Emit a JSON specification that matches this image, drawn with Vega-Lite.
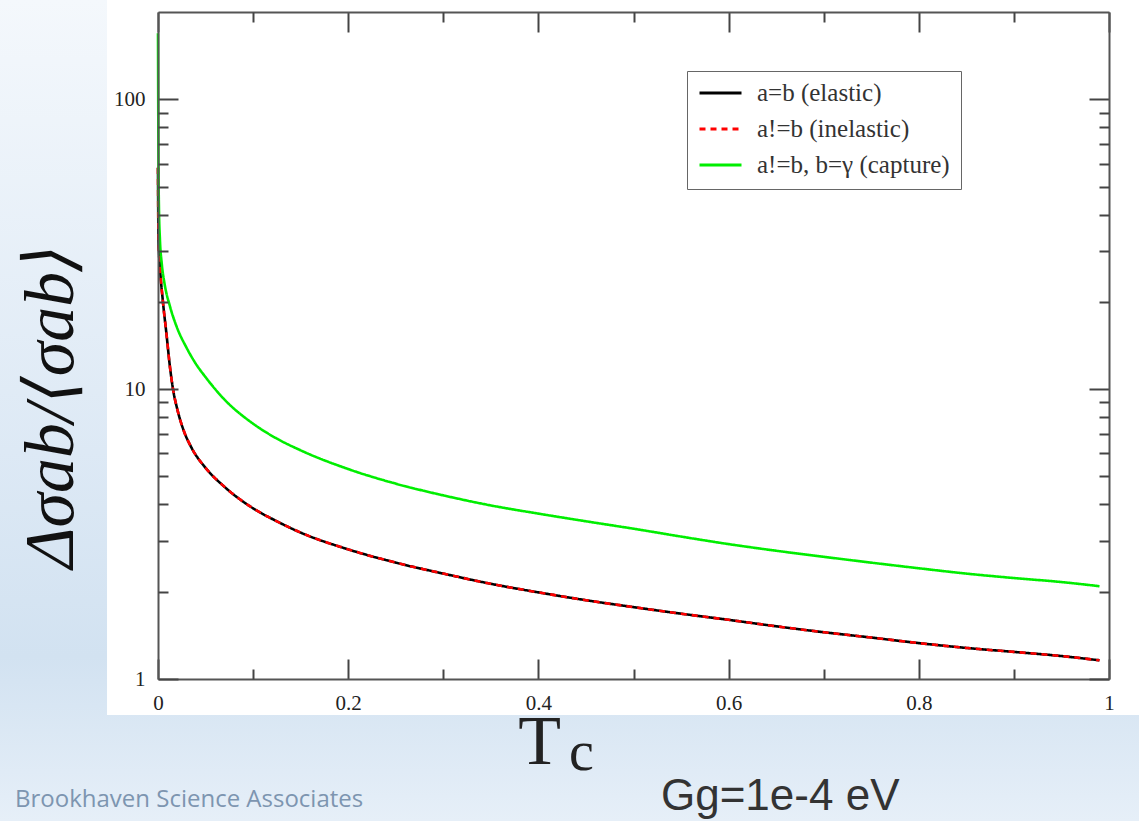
{
  "$schema": "https://vega.github.io/schema/vega-lite/v6.json",
  "width": 951,
  "height": 667,
  "autosize": {"type": "none"},
  "padding": {"left": 158, "top": 12, "right": 30, "bottom": 142},
  "background": "#e2ecf6",
  "config": {
    "view": {"stroke": null},
    "axis": {
      "grid": false,
      "tickColor": "#444444",
      "tickWidth": 2,
      "domainColor": "#555555",
      "domainWidth": 2,
      "labelFont": "Liberation Serif",
      "labelFontSize": 21,
      "labelColor": "#222222",
      "labelOverlap": false,
      "labelBound": false,
      "labelFlush": false
    }
  },
  "datasets": {
    "curves": [
      {"T": 0, "v": 58, "series": "a=b (elastic)"},
      {"T": 0.0005, "v": 33, "series": "a=b (elastic)"},
      {"T": 0.002, "v": 26.5, "series": "a=b (elastic)"},
      {"T": 0.005, "v": 20.3, "series": "a=b (elastic)"},
      {"T": 0.009, "v": 15.4, "series": "a=b (elastic)"},
      {"T": 0.0126, "v": 11.9, "series": "a=b (elastic)"},
      {"T": 0.016, "v": 9.9, "series": "a=b (elastic)"},
      {"T": 0.02, "v": 8.6, "series": "a=b (elastic)"},
      {"T": 0.027, "v": 7.2, "series": "a=b (elastic)"},
      {"T": 0.035, "v": 6.3, "series": "a=b (elastic)"},
      {"T": 0.05, "v": 5.35, "series": "a=b (elastic)"},
      {"T": 0.07, "v": 4.6, "series": "a=b (elastic)"},
      {"T": 0.1, "v": 3.88, "series": "a=b (elastic)"},
      {"T": 0.125, "v": 3.5, "series": "a=b (elastic)"},
      {"T": 0.15, "v": 3.2, "series": "a=b (elastic)"},
      {"T": 0.2, "v": 2.8, "series": "a=b (elastic)"},
      {"T": 0.25, "v": 2.52, "series": "a=b (elastic)"},
      {"T": 0.3, "v": 2.31, "series": "a=b (elastic)"},
      {"T": 0.35, "v": 2.13, "series": "a=b (elastic)"},
      {"T": 0.4, "v": 1.99, "series": "a=b (elastic)"},
      {"T": 0.45, "v": 1.87, "series": "a=b (elastic)"},
      {"T": 0.5, "v": 1.77, "series": "a=b (elastic)"},
      {"T": 0.55, "v": 1.68, "series": "a=b (elastic)"},
      {"T": 0.6, "v": 1.6, "series": "a=b (elastic)"},
      {"T": 0.65, "v": 1.52, "series": "a=b (elastic)"},
      {"T": 0.7, "v": 1.45, "series": "a=b (elastic)"},
      {"T": 0.75, "v": 1.39, "series": "a=b (elastic)"},
      {"T": 0.8, "v": 1.33, "series": "a=b (elastic)"},
      {"T": 0.85, "v": 1.28, "series": "a=b (elastic)"},
      {"T": 0.9, "v": 1.24, "series": "a=b (elastic)"},
      {"T": 0.95, "v": 1.2, "series": "a=b (elastic)"},
      {"T": 0.99, "v": 1.16, "series": "a=b (elastic)"},
      {"T": 0, "v": 58, "series": "a!=b (inelastic)"},
      {"T": 0.0005, "v": 33, "series": "a!=b (inelastic)"},
      {"T": 0.002, "v": 26.5, "series": "a!=b (inelastic)"},
      {"T": 0.005, "v": 20.3, "series": "a!=b (inelastic)"},
      {"T": 0.009, "v": 15.4, "series": "a!=b (inelastic)"},
      {"T": 0.0126, "v": 11.9, "series": "a!=b (inelastic)"},
      {"T": 0.016, "v": 9.9, "series": "a!=b (inelastic)"},
      {"T": 0.02, "v": 8.6, "series": "a!=b (inelastic)"},
      {"T": 0.027, "v": 7.2, "series": "a!=b (inelastic)"},
      {"T": 0.035, "v": 6.3, "series": "a!=b (inelastic)"},
      {"T": 0.05, "v": 5.35, "series": "a!=b (inelastic)"},
      {"T": 0.07, "v": 4.6, "series": "a!=b (inelastic)"},
      {"T": 0.1, "v": 3.88, "series": "a!=b (inelastic)"},
      {"T": 0.125, "v": 3.5, "series": "a!=b (inelastic)"},
      {"T": 0.15, "v": 3.2, "series": "a!=b (inelastic)"},
      {"T": 0.2, "v": 2.8, "series": "a!=b (inelastic)"},
      {"T": 0.25, "v": 2.52, "series": "a!=b (inelastic)"},
      {"T": 0.3, "v": 2.31, "series": "a!=b (inelastic)"},
      {"T": 0.35, "v": 2.13, "series": "a!=b (inelastic)"},
      {"T": 0.4, "v": 1.99, "series": "a!=b (inelastic)"},
      {"T": 0.45, "v": 1.87, "series": "a!=b (inelastic)"},
      {"T": 0.5, "v": 1.77, "series": "a!=b (inelastic)"},
      {"T": 0.55, "v": 1.68, "series": "a!=b (inelastic)"},
      {"T": 0.6, "v": 1.6, "series": "a!=b (inelastic)"},
      {"T": 0.65, "v": 1.52, "series": "a!=b (inelastic)"},
      {"T": 0.7, "v": 1.45, "series": "a!=b (inelastic)"},
      {"T": 0.75, "v": 1.39, "series": "a!=b (inelastic)"},
      {"T": 0.8, "v": 1.33, "series": "a!=b (inelastic)"},
      {"T": 0.85, "v": 1.28, "series": "a!=b (inelastic)"},
      {"T": 0.9, "v": 1.24, "series": "a!=b (inelastic)"},
      {"T": 0.95, "v": 1.2, "series": "a!=b (inelastic)"},
      {"T": 0.99, "v": 1.16, "series": "a!=b (inelastic)"},
      {"T": 0, "v": 169, "series": "a!=b, b=γ (capture)"},
      {"T": 0.0005, "v": 60, "series": "a!=b, b=γ (capture)"},
      {"T": 0.001, "v": 42, "series": "a!=b, b=γ (capture)"},
      {"T": 0.002, "v": 33, "series": "a!=b, b=γ (capture)"},
      {"T": 0.004, "v": 27, "series": "a!=b, b=γ (capture)"},
      {"T": 0.007, "v": 23, "series": "a!=b, b=γ (capture)"},
      {"T": 0.0126, "v": 19.3, "series": "a!=b, b=γ (capture)"},
      {"T": 0.02, "v": 16.3, "series": "a!=b, b=γ (capture)"},
      {"T": 0.03, "v": 13.9, "series": "a!=b, b=γ (capture)"},
      {"T": 0.04, "v": 12.2, "series": "a!=b, b=γ (capture)"},
      {"T": 0.05, "v": 11.0, "series": "a!=b, b=γ (capture)"},
      {"T": 0.07, "v": 9.2, "series": "a!=b, b=γ (capture)"},
      {"T": 0.1, "v": 7.6, "series": "a!=b, b=γ (capture)"},
      {"T": 0.125, "v": 6.75, "series": "a!=b, b=γ (capture)"},
      {"T": 0.15, "v": 6.15, "series": "a!=b, b=γ (capture)"},
      {"T": 0.2, "v": 5.3, "series": "a!=b, b=γ (capture)"},
      {"T": 0.25, "v": 4.72, "series": "a!=b, b=γ (capture)"},
      {"T": 0.3, "v": 4.3, "series": "a!=b, b=γ (capture)"},
      {"T": 0.35, "v": 3.97, "series": "a!=b, b=γ (capture)"},
      {"T": 0.4, "v": 3.72, "series": "a!=b, b=γ (capture)"},
      {"T": 0.45, "v": 3.5, "series": "a!=b, b=γ (capture)"},
      {"T": 0.5, "v": 3.3, "series": "a!=b, b=γ (capture)"},
      {"T": 0.55, "v": 3.1, "series": "a!=b, b=γ (capture)"},
      {"T": 0.6, "v": 2.92, "series": "a!=b, b=γ (capture)"},
      {"T": 0.65, "v": 2.77, "series": "a!=b, b=γ (capture)"},
      {"T": 0.7, "v": 2.64, "series": "a!=b, b=γ (capture)"},
      {"T": 0.75, "v": 2.52, "series": "a!=b, b=γ (capture)"},
      {"T": 0.8, "v": 2.41, "series": "a!=b, b=γ (capture)"},
      {"T": 0.85, "v": 2.31, "series": "a!=b, b=γ (capture)"},
      {"T": 0.9, "v": 2.23, "series": "a!=b, b=γ (capture)"},
      {"T": 0.95, "v": 2.16, "series": "a!=b, b=γ (capture)"},
      {"T": 0.99, "v": 2.09, "series": "a!=b, b=γ (capture)"}
    ]
  },
  "layer": [
    {
      "data": {"values": [{}]},
      "mark": {
        "type": "rect",
        "fill": {
          "gradient": "linear", "x1": 0, "y1": 0, "x2": 0, "y2": 1,
          "stops": [
            {"offset": 0, "color": "#f4f8fc"},
            {"offset": 0.55, "color": "#dde9f5"},
            {"offset": 0.8, "color": "#d2e2f1"},
            {"offset": 1, "color": "#e6eff8"}
          ]
        }
      },
      "encoding": {
        "x": {"datum": -0.16614, "type": "quantitative", "scale": {"domain": [0, 1], "nice": false, "zero": false}, "axis": null},
        "x2": {"datum": 1.03155},
        "y": {"datum": 220, "type": "quantitative", "scale": {"type": "log", "domain": [1, 200], "nice": false}, "axis": null},
        "y2": {"datum": 0.3236}
      }
    },
    {
      "data": {"values": [{}]},
      "mark": {"type": "rect", "fill": "#ffffff"},
      "encoding": {
        "x": {"datum": -0.0536, "type": "quantitative", "scale": {"domain": [0, 1], "nice": false, "zero": false}, "axis": null},
        "x2": {"datum": 1.03155},
        "y": {"datum": 220, "type": "quantitative", "scale": {"type": "log", "domain": [1, 200], "nice": false}, "axis": null},
        "y2": {"datum": 0.7514}
      }
    },
    {
      "data": {"name": "curves"},
      "mark": {"type": "line", "strokeWidth": 2.6, "interpolate": "monotone"},
      "encoding": {
        "x": {
          "field": "T", "type": "quantitative",
          "scale": {"domain": [0, 1], "nice": false, "zero": false},
          "axis": {
            "orient": "bottom",
            "zindex": 1,
            "values": [0, 0.2, 0.4, 0.6, 0.8, 1],
            "labelExpr": "datum.value + ''",
            "tickSize": -20,
            "labelPadding": 33,
            "title": "T",
            "titleFont": "Liberation Serif",
            "titleFontSize": 70,
            "titleFontWeight": "normal",
            "titleColor": "#222222",
            "titleX": 381,
            "titleY": 84,
            "titleAlign": "center",
            "titleBaseline": "alphabetic"
          }
        },
        "y": {
          "field": "v", "type": "quantitative",
          "scale": {"type": "log", "domain": [1, 200], "nice": false},
          "axis": {
            "orient": "left",
            "zindex": 1,
            "values": [1, 10, 100],
            "labelExpr": "datum.value + ''",
            "tickSize": -20,
            "labelPadding": 33,
            "title": "Δσab/⟨σab⟩",
            "titleFont": "Liberation Serif, DejaVu Serif",
            "titleFontStyle": "italic",
            "titleFontSize": 70,
            "titleFontWeight": "normal",
            "titleColor": "#111111",
            "titleAngle": 270,
            "titleX": -86,
            "titleY": 394,
            "titleAlign": "center",
            "titleBaseline": "alphabetic"
          }
        },
        "color": {
          "field": "series", "type": "nominal",
          "scale": {"domain": ["a=b (elastic)", "a!=b (inelastic)", "a!=b, b=γ (capture)"], "range": ["#000000", "#ff0000", "#00ee00"]},
          "legend": {
            "title": null,
            "orient": "none",
            "legendX": 529,
            "legendY": 59,
            "zindex": 2,
            "fillColor": "#ffffff",
            "strokeColor": "#666666",
            "padding": 11,
            "symbolType": "stroke",
            "symbolSize": 1764,
            "symbolStrokeWidth": 3,
            "clipHeight": 22,
            "rowPadding": 11,
            "labelOffset": 14,
            "labelFont": "Liberation Serif",
            "labelFontSize": 25,
            "labelColor": "#333333",
            "labelLimit": 400
          }
        },
        "strokeDash": {
          "field": "series", "type": "nominal",
          "scale": {"domain": ["a=b (elastic)", "a!=b (inelastic)", "a!=b, b=γ (capture)"], "range": [[1, 0], [6, 5], [1, 0]]},
          "legend": {
            "title": null,
            "orient": "none",
            "legendX": 529,
            "legendY": 59,
            "zindex": 2,
            "fillColor": "#ffffff",
            "strokeColor": "#666666",
            "padding": 11,
            "symbolType": "stroke",
            "symbolSize": 1764,
            "symbolStrokeWidth": 3,
            "clipHeight": 22,
            "rowPadding": 11,
            "labelOffset": 14,
            "labelFont": "Liberation Serif",
            "labelFontSize": 25,
            "labelColor": "#333333",
            "labelLimit": 400
          }
        }
      }
    },
    {
      "data": {"name": "curves"},
      "mark": {"type": "point", "opacity": 0},
      "encoding": {
        "x": {
          "field": "T", "type": "quantitative",
          "scale": {"domain": [0, 1], "nice": false, "zero": false},
          "axis": {"orient": "top", "zindex": 1, "values": [0, 0.2, 0.4, 0.6, 0.8, 1], "labels": false, "tickSize": -20, "title": null}
        },
        "y": {
          "field": "v", "type": "quantitative",
          "scale": {"type": "log", "domain": [1, 200], "nice": false},
          "axis": {"orient": "right", "zindex": 1, "values": [1, 10, 100], "labels": false, "tickSize": -20, "title": null}
        }
      }
    },
    {
      "data": {"name": "curves"},
      "mark": {"type": "point", "opacity": 0},
      "encoding": {
        "x": {
          "field": "T", "type": "quantitative",
          "scale": {"domain": [0, 1], "nice": false, "zero": false},
          "axis": {"orient": "bottom", "zindex": 1, "values": [0.1, 0.3, 0.5, 0.7, 0.9], "labels": false, "domain": false, "tickSize": -10, "title": null}
        },
        "y": {
          "field": "v", "type": "quantitative",
          "scale": {"type": "log", "domain": [1, 200], "nice": false},
          "axis": {"orient": "left", "zindex": 1, "values": [2, 3, 4, 5, 6, 7, 8, 9, 20, 30, 40, 50, 60, 70, 80, 90], "labels": false, "domain": false, "tickSize": -10, "title": null}
        }
      }
    },
    {
      "data": {"name": "curves"},
      "mark": {"type": "point", "opacity": 0},
      "encoding": {
        "x": {
          "field": "T", "type": "quantitative",
          "scale": {"domain": [0, 1], "nice": false, "zero": false},
          "axis": {"orient": "top", "zindex": 1, "values": [0.1, 0.3, 0.5, 0.7, 0.9], "labels": false, "domain": false, "tickSize": -10, "title": null}
        },
        "y": {
          "field": "v", "type": "quantitative",
          "scale": {"type": "log", "domain": [1, 200], "nice": false},
          "axis": {"orient": "right", "zindex": 1, "values": [2, 3, 4, 5, 6, 7, 8, 9, 20, 30, 40, 50, 60, 70, 80, 90], "labels": false, "domain": false, "tickSize": -10, "title": null}
        }
      }
    },
    {
      "data": {"values": [{}]},
      "mark": {"type": "text", "text": "c", "font": "Liberation Serif", "fontSize": 56, "color": "#222222", "align": "left", "baseline": "alphabetic"},
      "encoding": {
        "x": {"datum": 0.4322, "type": "quantitative", "scale": {"domain": [0, 1], "nice": false, "zero": false}, "axis": null},
        "y": {"datum": 0.4854, "type": "quantitative", "scale": {"type": "log", "domain": [1, 200], "nice": false}, "axis": null}
      }
    },
    {
      "data": {"values": [{}]},
      "mark": {"type": "text", "text": "Gg=1e-4 eV", "font": "Liberation Sans", "fontSize": 44, "color": "#333333", "align": "left", "baseline": "alphabetic"},
      "encoding": {
        "x": {"datum": 0.5289, "type": "quantitative", "scale": {"domain": [0, 1], "nice": false, "zero": false}, "axis": null},
        "y": {"datum": 0.3533, "type": "quantitative", "scale": {"type": "log", "domain": [1, 200], "nice": false}, "axis": null}
      }
    },
    {
      "data": {"values": [{}]},
      "mark": {"type": "text", "text": "Brookhaven Science Associates", "font": "Open Sans", "fontSize": 24, "color": "#7d95b0", "align": "left", "baseline": "alphabetic"},
      "encoding": {
        "x": {"datum": -0.1504, "type": "quantitative", "scale": {"domain": [0, 1], "nice": false, "zero": false}, "axis": null},
        "y": {"datum": 0.3618, "type": "quantitative", "scale": {"type": "log", "domain": [1, 200], "nice": false}, "axis": null}
      }
    }
  ],
  "resolve": {"axis": {"x": "independent", "y": "independent"}}
}
